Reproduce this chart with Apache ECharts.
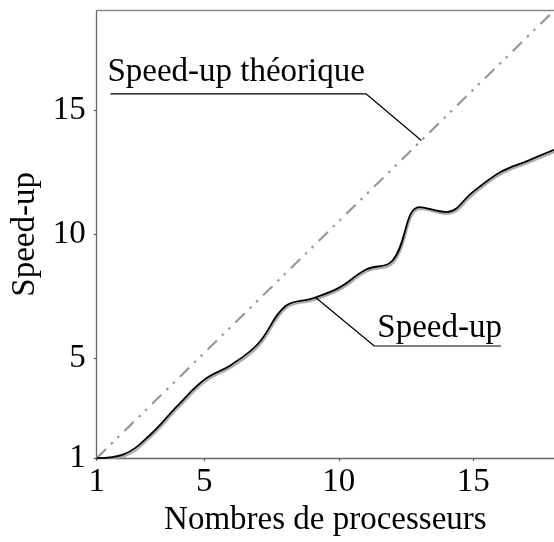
<!DOCTYPE html>
<html><head><meta charset="utf-8">
<script src="https://cdn.jsdelivr.net/npm/echarts@6/dist/echarts.min.js"></script>
<style>html,body{margin:0;padding:0;background:#fff}#c{width:554px;height:542px}</style>
</head><body><div id="c"></div>
<script>
// ---- data ----
const processors = [1,2,3,4,5,6,7,8,9,10,11,12,13,14,15,16,17,18];
const speedup    = [1.0,1.15,1.95,3.1,4.15,4.75,5.6,7.1,7.42,7.85,8.58,8.95,11.1,10.9,11.72,12.5,12.95,13.4];
const theoryX = [1, 18];
const theoryY = [1, 19];
const xTicks = [1, 5, 10, 15];
const yTicks = [1, 5, 10, 15];
const xAxisName = 'Nombres de processeurs';
const yAxisName = 'Speed-up';
const annotTheoryText = 'Speed-up théorique';
const annotSpeedText = 'Speed-up';
// annotation leader lines (data coordinates): underline start, underline end, pointer
const theoryLeaderX = [1.51, 11.02, 13.07];
const theoryLeaderY = [15.65, 15.65, 13.78];
const speedLeaderX = [16.03, 11.32, 9.14];
const speedLeaderY = [5.51, 5.51, 7.46];

const FONT = '"Liberation Serif", "DejaVu Serif", serif';
const chart = echarts.init(document.getElementById('c'), null, {renderer: 'canvas'});
const zip = (a, b) => a.map((v, i) => [v, b[i]]);

chart.setOption({
  animation: false,
  backgroundColor: '#fff',
  grid: {left: 96.7, top: 10.7, bottom: 69.7, right: -9.4, containLabel: false},
  xAxis: [{
    type: 'value', min: 1, max: 18,
    name: xAxisName, nameLocation: 'middle', nameGap: 38,
    nameTextStyle: {fontFamily: FONT, fontSize: 33, color: '#000'},
    axisLine: {show: true, lineStyle: {color: '#666', width: 1.3}},
    axisTick: {show: true, length: 3, customValues: xTicks, lineStyle: {color: '#666', width: 1.3}},
    axisLabel: {customValues: xTicks, fontFamily: FONT, fontSize: 33, color: '#000', margin: 8},
    splitLine: {show: false}
  }, {
    type: 'value', min: 1, max: 18, position: 'top',
    axisLine: {show: true, onZero: false, lineStyle: {color: '#888', width: 1.3}},
    axisTick: {show: false}, axisLabel: {show: false}, splitLine: {show: false}
  }],
  yAxis: {
    type: 'value', min: 1, max: 19,
    name: yAxisName, nameLocation: 'middle', nameGap: 52, nameRotate: 90,
    nameTextStyle: {fontFamily: FONT, fontSize: 33, color: '#000'},
    axisLine: {show: true, lineStyle: {color: '#666', width: 1.3}},
    axisTick: {show: true, length: 3, customValues: yTicks, lineStyle: {color: '#666', width: 1.3}},
    axisLabel: {customValues: yTicks, fontFamily: FONT, fontSize: 33, color: '#000', margin: 11},
    splitLine: {show: false}
  },
  series: [{
    name: 'theory', type: 'line', data: zip(theoryX, theoryY), showSymbol: false, symbol: 'none',
    lineStyle: {color: '#999', width: 2.2, type: [13, 7, 2.5, 6.5, 2.5, 7.3]}, z: 2
  }, {
    name: 'speedup', type: 'line', data: zip(processors, speedup), smooth: 0.4, showSymbol: false, symbol: 'none',
    lineStyle: {color: '#000', width: 1.8, shadowColor: 'rgba(150,150,150,0.95)', shadowBlur: 1, shadowOffsetX: 1, shadowOffsetY: 1.8}, z: 3
  }, {
    name: 'annot1', type: 'line', data: zip(theoryLeaderX, theoryLeaderY), showSymbol: false, symbol: 'none',
    lineStyle: {color: '#000', width: 1.2}, z: 4
  }, {
    name: 'annot2', type: 'line', data: zip(speedLeaderX, speedLeaderY), showSymbol: false, symbol: 'none',
    lineStyle: {color: '#000', width: 1.2}, z: 4
  }]
});

const p1 = chart.convertToPixel({gridIndex: 0}, [theoryLeaderX[0], theoryLeaderY[0]]);
const p2 = chart.convertToPixel({gridIndex: 0}, [speedLeaderX[1], speedLeaderY[1]]);
chart.setOption({
  graphic: [{
    type: 'text', x: p1[0] - 3, y: p1[1] - 5,
    style: {text: annotTheoryText, font: '33px ' + FONT, fill: '#000', textAlign: 'left', textVerticalAlign: 'bottom'}
  }, {
    type: 'text', x: p2[0] + 3, y: p2[1] - 1,
    style: {text: annotSpeedText, font: '33px ' + FONT, fill: '#000', textAlign: 'left', textVerticalAlign: 'bottom'}
  }]
});
</script></body></html>
